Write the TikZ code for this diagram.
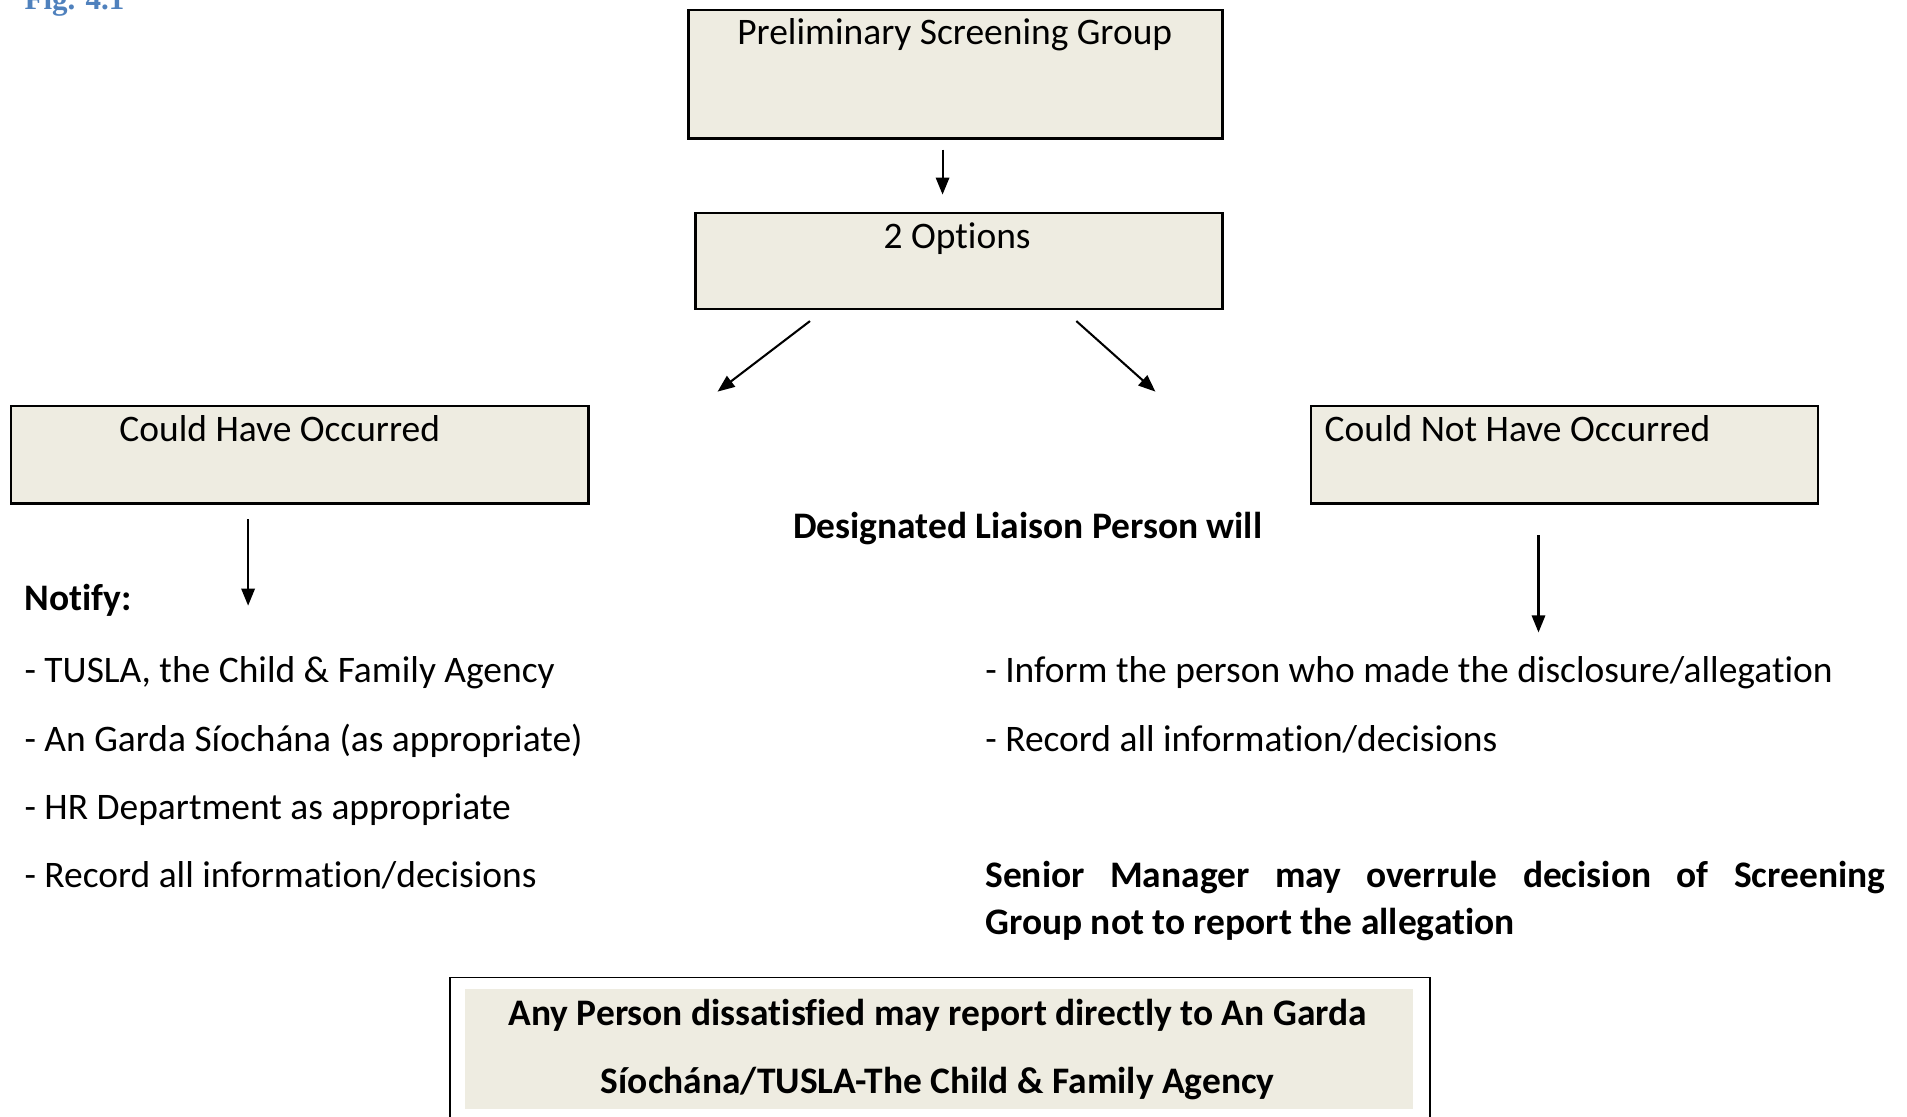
\documentclass[tikz,border=0pt]{standalone}
\usepackage{fontspec}
\setmainfont[Ligatures={NoCommon}]{Carlito}
\newfontfamily\figfont{Liberation Serif}
\usetikzlibrary{arrows.meta}
\definecolor{boxfill}{HTML}{EEECE1}
\definecolor{figblue}{HTML}{4F81BD}
\begin{document}
\begin{tikzpicture}[x=1pt,y=-1pt,
  box/.style={draw=black, line width=2pt, fill=boxfill, anchor=north west, inner sep=0pt},
  txt/.style={anchor=base, inner sep=0pt, font=\fontsize{30.8}{36}\selectfont},
  txtb/.style={txt, font=\fontsize{30.8}{36}\selectfont\bfseries},
  arr/.style={line width=1.7pt, -{Triangle[length=14pt,width=11pt]}},
]
\useasboundingbox (0,0) rectangle (1568,918);
\clip (0,0) rectangle (1568,918);

% figure caption (cut off at top)
\node[anchor=base west, inner sep=0pt, text=figblue, font=\fontsize{25.5}{30}\selectfont\figfont\bfseries] (fig) at (20,8) {Fig. 4.1};

% boxes
\node[box, minimum width=439, minimum height=106] (A) at (565,7) {};
\node[txt] (tA) at (785,37) {Preliminary Screening Group};
\node[box, minimum width=433, minimum height=79] (B) at (571,174) {};
\node[txt] (tB) at (787,204) {2 Options};
\node[box, minimum width=475, minimum height=80] (C) at (8,333) {};
\node[txt] (tC) at (230,363) {Could Have Occurred};
\node[box, minimum width=417, minimum height=80] (D) at (1077,333) {};
\node[txt, anchor=base west] (tD) at (1089,363) {Could Not Have Occurred};

% arrows
\coordinate (a1s) at (775,123); \coordinate (a1e) at (775,160);
\draw[arr] (a1s) -- (a1e);
\coordinate (a2s) at (666,264); \coordinate (a2e) at (590,322);
\draw[arr] (a2s) -- (a2e);
\coordinate (a3s) at (885,264); \coordinate (a3e) at (950,322);
\draw[arr] (a3s) -- (a3e);
\coordinate (a4s) at (204,427); \coordinate (a4e) at (204,498);
\draw[arr] (a4s) -- (a4e);
\coordinate (a5s) at (1265,440); \coordinate (a5e) at (1265,520);
\draw[arr] (a5s) -- (a5e);

% middle heading
\node[txtb] (dlp) at (845,443) {Designated Liaison Person will};

% left column
\node[txtb, anchor=base west] (notify) at (20,502) {Notify:};
\node[txt, anchor=base west] (l1) at (20,561) {- TUSLA, the Child \& Family Agency};
\node[txt, anchor=base west] (l2) at (20,618) {- An Garda Síochána (as appropriate)};
\node[txt, anchor=base west] (l3) at (20,674) {- HR Department as appropriate};
\node[txt, anchor=base west] (l4) at (20,730) {- Record all information/decisions};

% right column
\node[txt, anchor=base west] (r1) at (810,561) {- Inform the person who made the disclosure/allegation};
\node[txt, anchor=base west] (r2) at (810,618) {- Record all information/decisions};
\node[txtb, anchor=base west] (s1) at (810,730) {\makebox[740pt][s]{Senior Manager may overrule decision of Screening}};
\node[txtb, anchor=base west] (s2) at (810,768) {Group not to report the allegation};

% bottom box
\node[draw=black, line width=1.5pt, fill=white, anchor=north west, inner sep=0pt, minimum width=806, minimum height=140] (E) at (369,803) {};
\node[fill=boxfill, anchor=north west, inner sep=0pt, minimum width=780, minimum height=99] (Ein) at (382,813) {};
\node[txtb] (e1) at (771,843) {Any Person dissatisfied may report directly to An Garda};
\node[txtb] (e2) at (771,899) {Síochána/TUSLA-The Child \& Family Agency};
\end{tikzpicture}
\end{document}
